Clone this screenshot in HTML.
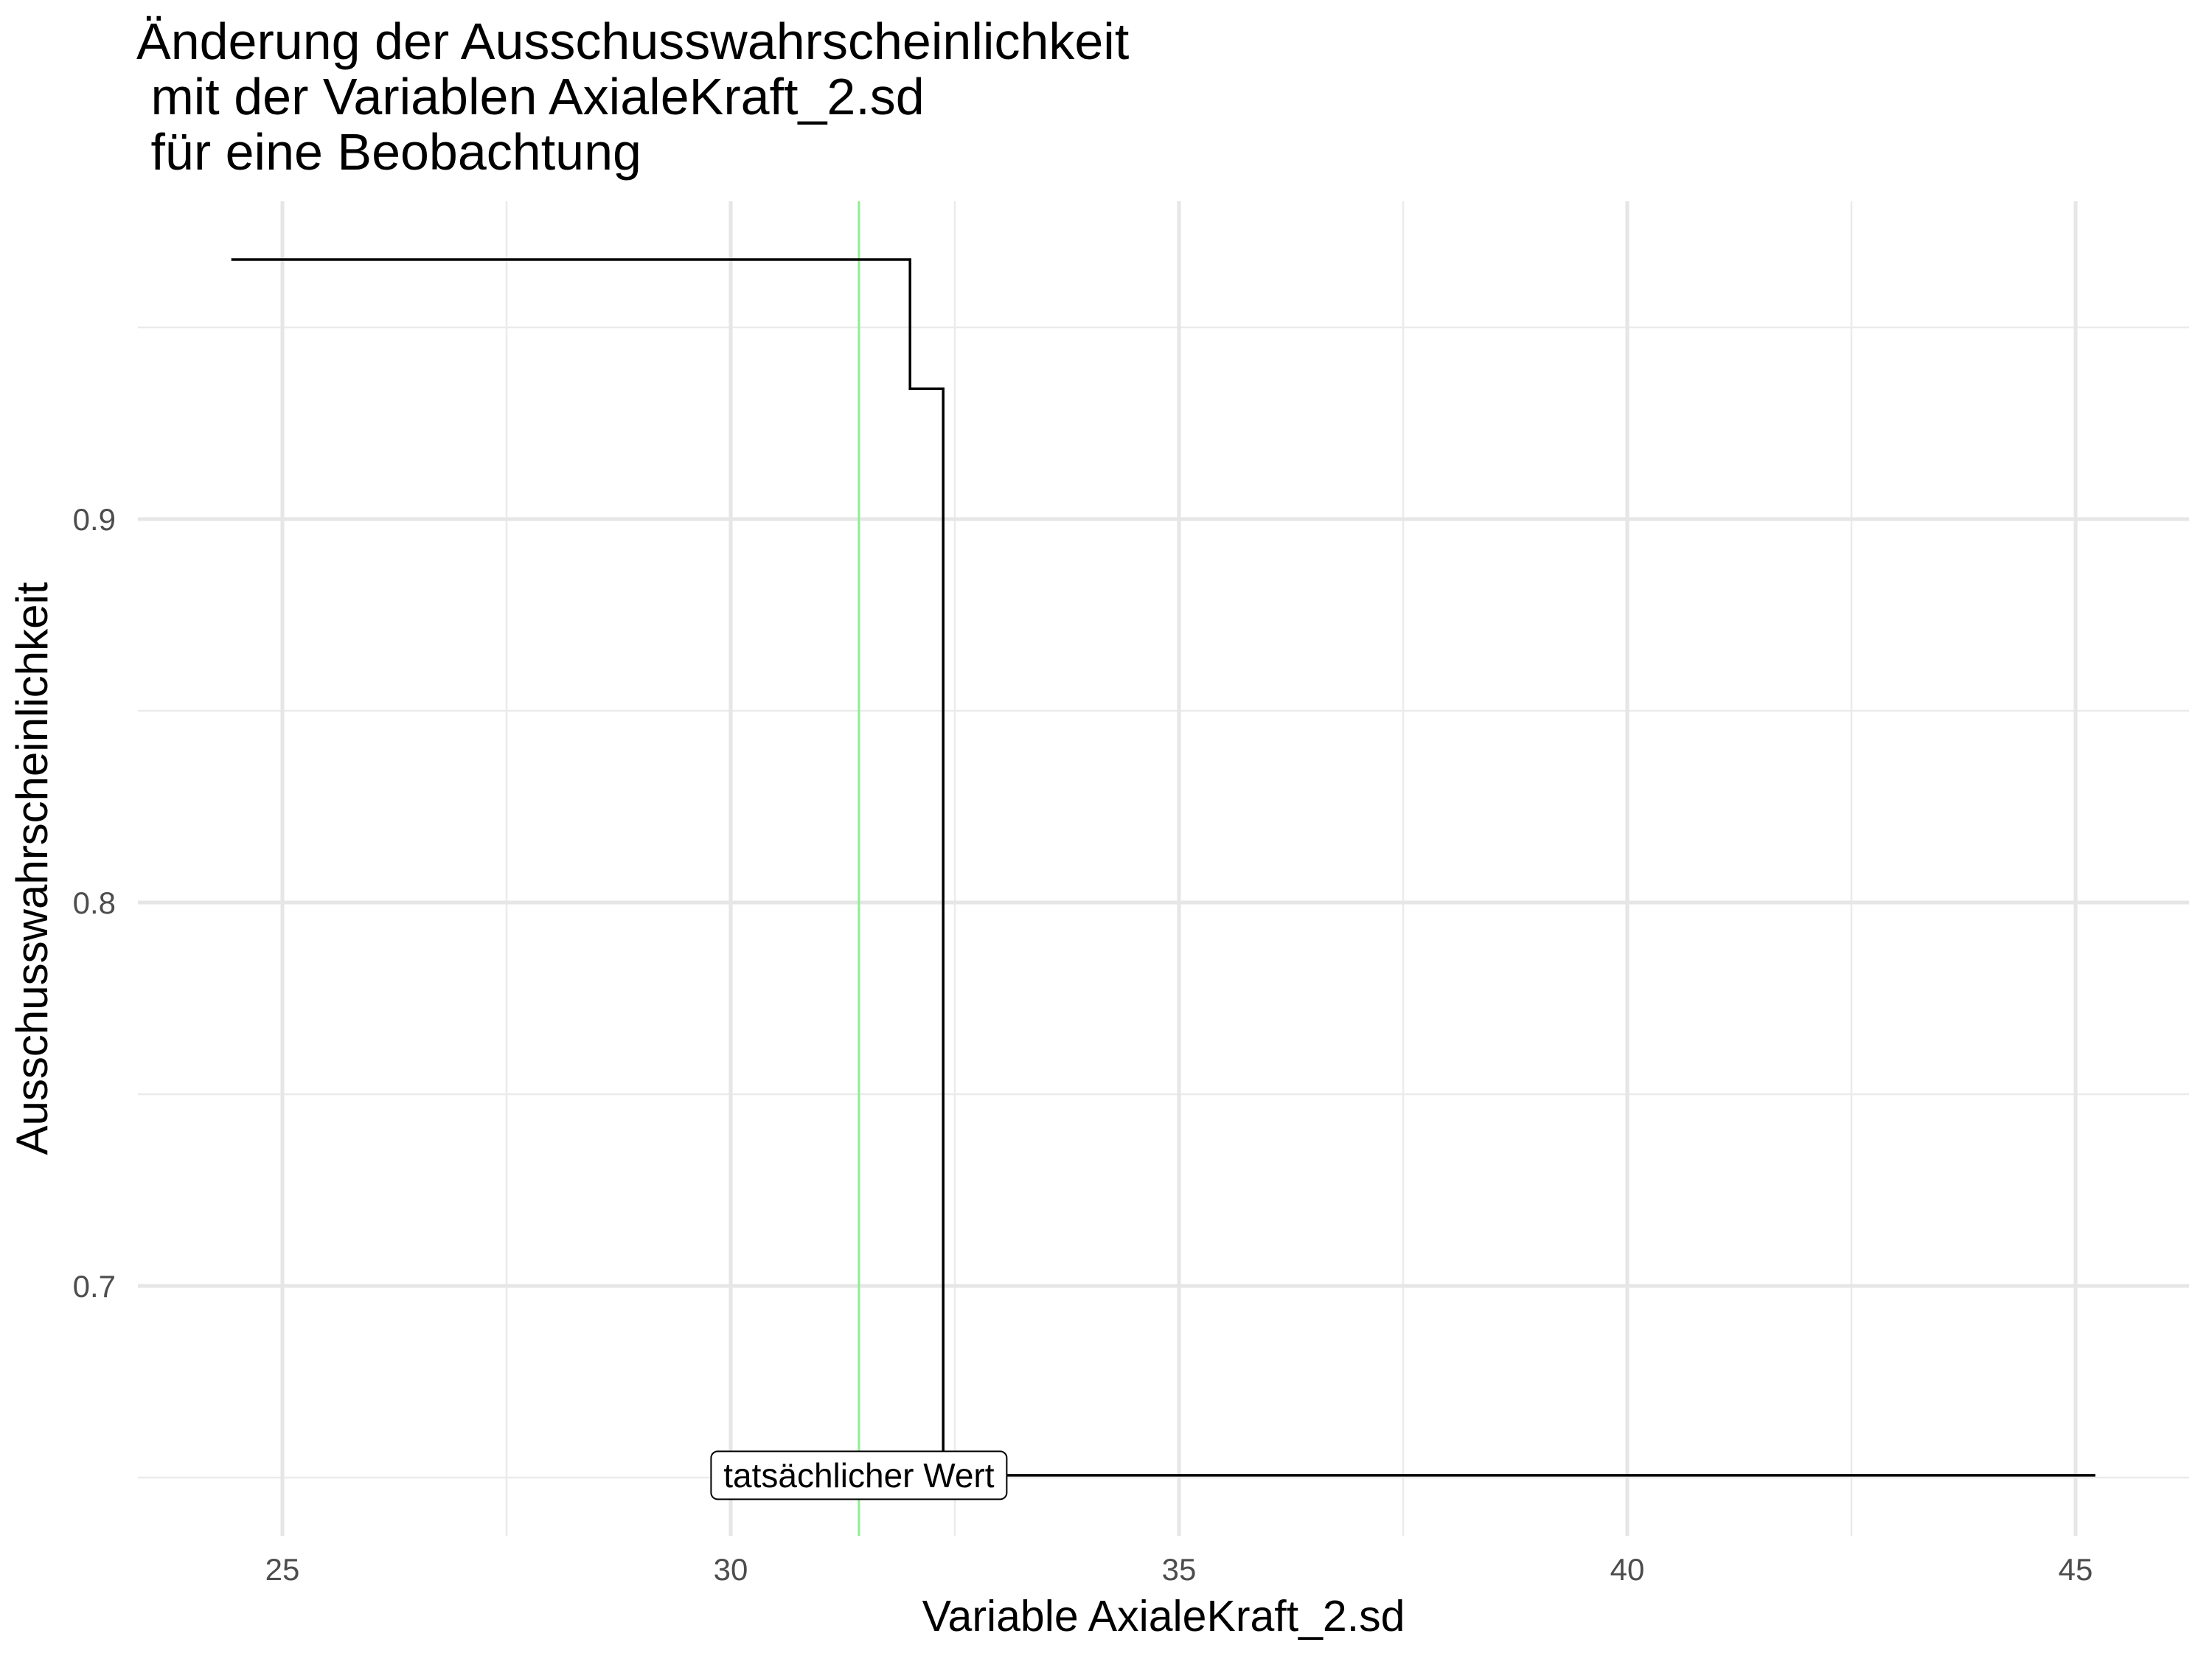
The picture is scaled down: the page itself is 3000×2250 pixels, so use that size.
<!DOCTYPE html>
<html><head><meta charset="utf-8"><style>
body{margin:0;background:#fff}
svg{display:block;font-family:"Liberation Sans",Arial,sans-serif}
</style></head><body>
<svg id="chart" width="3000" height="2250" viewBox="0 0 3000 2250" xmlns="http://www.w3.org/2000/svg">
<rect width="3000" height="2250" fill="#fff"/>
<g id="grid"></g>
<g id="marks"></g>
<g id="axes"></g>
<text font-size="70" fill="#000" x="185" y="80">Änderung der Ausschusswahrscheinlichkeit</text>
<text font-size="70" fill="#000" x="185" y="155" xml:space="preserve"> mit der Variablen AxialeKraft_2.sd</text>
<text font-size="70" fill="#000" x="185" y="230" xml:space="preserve"> für eine Beobachtung</text>
<text font-size="59" fill="#000" x="1578" y="2212" text-anchor="middle">Variable AxialeKraft_2.sd</text>
<text font-size="60" fill="#000" transform="translate(64,1178) rotate(-90)" text-anchor="middle">Ausschusswahrscheinlichkeit</text>
</svg>
<script>
const xTicks=[25,30,35,40,45];
const xMinor=[27.5,32.5,37.5,42.5];
const yTicks=[0.7,0.8,0.9];
const yMinor=[0.65,0.75,0.85,0.95];
const stepX=[24.43,32.0,32.37,45.22];
const stepY=[0.9677,0.934,0.6506];
const actualValue=[31.43];
const labelText=["tatsächlicher Wert"];

const PL=187,PR=2969,PT=273,PB=2083;
const X=v=>383+(v-25)*121.6;
const Y=v=>704-(v-0.9)*5200;
const NS="http://www.w3.org/2000/svg";
function mk(tag,attrs,parent){const e=document.createElementNS(NS,tag);for(const k in attrs)e.setAttribute(k,attrs[k]);parent.appendChild(e);return e;}
const grid=document.getElementById('grid'),marks=document.getElementById('marks'),axes=document.getElementById('axes');

xMinor.forEach(v=>{const l=mk('line',{x1:X(v),x2:X(v),y1:PT,y2:PB,stroke:'#ebebeb','stroke-width':2.5},grid);

});
yMinor.forEach(v=>{const l=mk('line',{x1:PL,x2:PR,y1:Y(v),y2:Y(v),stroke:'#ebebeb','stroke-width':2.5},grid);

});
xTicks.forEach(v=>{const l=mk('line',{x1:X(v),x2:X(v),y1:PT,y2:PB,stroke:'#e6e6e6','stroke-width':5},grid);


const t=mk('text',{x:X(v),y:2143,'font-size':42,fill:'#4d4d4d','text-anchor':'middle'},axes);t.textContent=v;

});
yTicks.forEach(v=>{const l=mk('line',{x1:PL,x2:PR,y1:Y(v),y2:Y(v),stroke:'#e6e6e6','stroke-width':5},grid);


const t=mk('text',{x:157,y:Y(v)+15,'font-size':42,fill:'#4d4d4d','text-anchor':'end'},axes);t.textContent=v.toFixed(1);

});

const vl=mk('line',{x1:X(actualValue[0]),x2:X(actualValue[0]),y1:PT,y2:PB,stroke:'#90ee90','stroke-width':3},marks);



let d='';
for(let i=0;i<stepY.length;i++){
  d+=(i===0?'M':'L')+X(stepX[i])+','+Y(stepY[i])+' L'+X(stepX[i+1])+','+Y(stepY[i]);
}
const p=mk('path',{d:d,fill:'none',stroke:'#000','stroke-width':3.5},marks);



const cx=X(actualValue[0]),cy=Y(stepY[stepY.length-1]);
const g=mk('g',{},marks);


const w=401,h=65;
mk('rect',{x:cx-w/2,y:cy-h/2,width:w,height:h,rx:9,fill:'#fff',stroke:'#000','stroke-width':2},g);
const lt=mk('text',{x:cx,y:cy+16,'font-size':46,fill:'#000','text-anchor':'middle'},g);lt.textContent=labelText[0];
</script>
</body></html>
